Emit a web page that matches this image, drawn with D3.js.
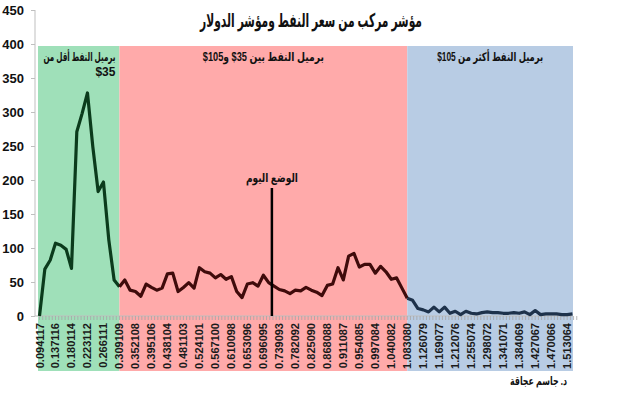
<!DOCTYPE html>
<html>
<head>
<meta charset="utf-8">
<script src="https://cdn.jsdelivr.net/npm/d3@7"></script>
<style>
  body { margin: 0; background: #fff; }
  svg { font-family: "Liberation Sans", Arial, "DejaVu Sans", sans-serif; }
</style>
</head>
<body>
<svg id="chart" width="620" height="398"></svg>
<script>
// tick labels shown on the category axis (every 3rd category)
const tickLabels = ['0.094117','0.137116','0.180114','0.223112','0.266111','0.309109','0.352108','0.395106',
  '0.438104','0.481103','0.524101','0.567100','0.610098','0.653096','0.696095','0.739093','0.782092',
  '0.825090','0.868088','0.911087','0.954085','0.997084','1.040082','1.083080','1.126079','1.169077',
  '1.212076','1.255074','1.298072','1.341071','1.384069','1.427067','1.470066','1.513064'];

// index values, one per category (101 categories)
const indexValues = [0,69,82,107,104,98,70,271,298,328,249,183,197,112,53,43,53,38,36,29,
  47,42,38,41,62,63,36,42,49,41,71,65,63,56,61,54,58,36,27,47,
  49,44,60,49,44,39,37,33,38,37,42,38,35,30,45,47,71,53,88,92,
  72,76,76,63,73,65,54,56,41,26,23,11,9,6,13,6,13,4,7,2,
  7,4,3,5,6,5,5,4,4,5,4,6,2,8,2,3,3,3,2,2,3];

// bidi helpers: right-to-left run with left-to-right dollar amounts
const RLI = '\u2067', LRI = '\u2066', PDI = '\u2069';
const rtl = s => RLI + s.replace(/\$\d+/g, m => LRI + m + PDI) + PDI;

// price zones: category range, label lines, colours
const zones = [
  { from: null, to: 15, lines: [['برميل النفط أقل من', 72], ['$35', 0]], fill: '#9fe0b9', stroke: '#0b3b1c', align: 'end' },
  { from: 15, to: 69, lines: [['برميل النفط بين $35 و$105', 121]], fill: '#ffaaaa', stroke: '#3f0b0b', align: 'middle' },
  { from: 69, to: null, lines: [['برميل النفط أكثر من $105', 106]], fill: '#b8cce4', stroke: '#1e324b', align: 'middle' }
];

const todayIndex = 43.6; // position of "today" marker on the category axis
const yTicks = [0, 50, 100, 150, 200, 250, 300, 350, 400, 450];

const svg = d3.select('#chart');
const x = d3.scaleLinear().domain([0, indexValues.length - 1]).range([39.5, 572.5]);
const y = d3.scaleLinear().domain([0, 450]).range([316, 10]);
const bandTop = 46, bandBottom = 371, plotLeft = 38, plotRight = 573;

function label(px, py, str, size, anchor, width) {
  const t = svg.append('text').attr('x', px).attr('y', py).attr('text-anchor', anchor)
    .attr('font-size', size).attr('font-weight', 'bold').attr('fill', '#111')
    .text(rtl(str));
  if (width) t.attr('textLength', width).attr('lengthAdjust', 'spacingAndGlyphs');
  return t;
}

// coloured zones
zones.forEach(z => {
  const x0 = z.from === null ? plotLeft : x(z.from);
  const x1 = z.to === null ? plotRight : x(z.to);
  svg.append('rect').attr('x', x0).attr('y', bandTop)
    .attr('width', x1 - x0).attr('height', bandBottom - bandTop).attr('fill', z.fill);
  z.lines.forEach(([line, w], i) => {
    label(z.align === 'end' ? x1 - 4 : (x0 + x1) / 2, 61 + i * 15, line, 12, z.align, w);
  });
});

// y axis
const yAxis = svg.append('g').attr('transform', 'translate(35,0)')
  .call(d3.axisLeft(y).tickValues(yTicks).tickSize(4).tickPadding(7));
yAxis.select('.domain').attr('stroke', '#bfbfbf').attr('d', `M0,${y(450)}V${y(0)}`);
yAxis.selectAll('.tick line').attr('stroke', '#bfbfbf');
yAxis.selectAll('text').attr('font-size', 13).attr('font-weight', 'bold').attr('fill', '#111')
  .attr('font-family', '"Liberation Sans", Arial, sans-serif');

// x axis: minor ticks + rotated labels every 3rd category
const xAxis = svg.append('g');
xAxis.append('line').attr('x1', 35).attr('x2', plotRight).attr('y1', y(0)).attr('y2', y(0))
  .attr('stroke', '#bfbfbf');
xAxis.selectAll('line.minor').data(d3.range(0, indexValues.length, 0.6)).enter().append('line')
  .attr('class', 'minor')
  .attr('x1', d => x(d)).attr('x2', d => x(d)).attr('y1', y(0)).attr('y2', y(0) + 4)
  .attr('stroke', '#a6a6a6').attr('stroke-width', 0.8);
xAxis.selectAll('text').data(tickLabels).enter().append('text')
  .attr('transform', (d, i) => `translate(${x(i * 3) + 4},${y(0) + 7}) rotate(-90)`)
  .attr('text-anchor', 'end').attr('font-size', 11).attr('font-weight', 'bold').attr('fill', '#1a1a1a')
  .text(d => d);

// index line, coloured per zone
const line = d3.line().x(d => x(d.i)).y(d => y(d.v));
const points = indexValues.map((v, i) => ({ i, v }));
zones.forEach(z => {
  const a = z.from === null ? 0 : z.from;
  const b = z.to === null ? indexValues.length - 1 : z.to;
  svg.append('path').datum(points.slice(a, b + 1)).attr('d', line)
    .attr('fill', 'none').attr('stroke', z.stroke).attr('stroke-width', 3.2)
    .attr('stroke-linejoin', 'round');
});

// today marker
svg.append('line').attr('x1', x(todayIndex)).attr('x2', x(todayIndex))
  .attr('y1', 188).attr('y2', y(0)).attr('stroke', '#000').attr('stroke-width', 2.5);
label(x(todayIndex), 182, 'الوضع اليوم', 12, 'middle', 52);

// title and credit
label(311, 27, 'مؤشر مركب من سعر النفط ومؤشر الدولار', 19, 'middle', 222);
label(567, 385, 'د. جاسم عجاقة', 12, 'end', 57);
</script>
</body>
</html>
